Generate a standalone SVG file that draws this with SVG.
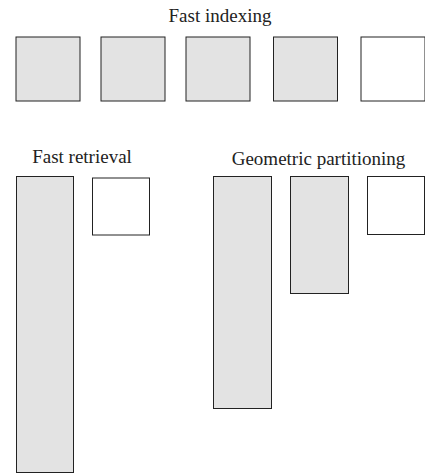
<svg xmlns="http://www.w3.org/2000/svg" width="425" height="474" viewBox="0 0 425 474">
<style>
.g{fill:#e3e3e3;stroke:#222;stroke-width:1}
.w{fill:#fff;stroke:#222;stroke-width:1}
text{font-family:"Liberation Serif","Times New Roman",serif;font-size:19px;fill:#222;text-anchor:middle}
</style>
<rect width="425" height="474" fill="#fff"/>
<g id="fast-indexing">
<text x="220" y="22">Fast indexing</text>
<rect class="g" x="16" y="37" width="64" height="64"/>
<rect class="g" x="101" y="37" width="64" height="64"/>
<rect class="g" x="186" y="37" width="64" height="64"/>
<rect class="g" x="273.5" y="37" width="64" height="64"/>
<rect class="w" x="361" y="37" width="64" height="64"/>
</g>
<g id="fast-retrieval">
<text x="82" y="163">Fast retrieval</text>
<rect class="g" x="16.5" y="176.5" width="57" height="296"/>
<rect class="w" x="92.5" y="178" width="57" height="57"/>
</g>
<g id="geometric-partitioning">
<text x="318.5" y="165">Geometric partitioning</text>
<rect class="g" x="213.5" y="176.5" width="58" height="232"/>
<rect class="g" x="290.5" y="176.5" width="58" height="117"/>
<rect class="w" x="367.5" y="176.5" width="57" height="58"/>
</g>
<g id="connectors"/>
</svg>
